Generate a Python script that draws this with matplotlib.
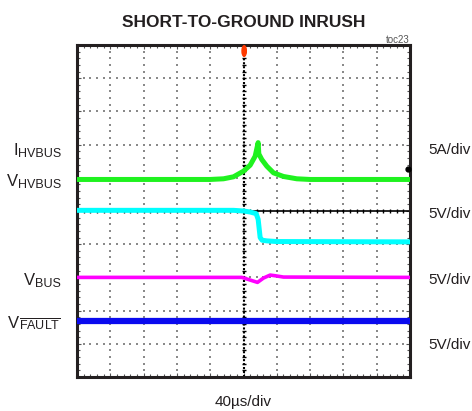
import numpy as np
import matplotlib
matplotlib.use("Agg")
import matplotlib.pyplot as plt
from matplotlib import font_manager
from matplotlib.patches import Ellipse
from matplotlib.ticker import MultipleLocator

# scope traces, in divisions (x: 40us/div, centre = trigger)
green_t = [-5.0, -1.0, -0.6, -0.3, 0.0, 0.2, 0.35, 0.44, 0.46, 0.55, 0.7, 0.9, 1.2, 1.6, 2.0, 5.0]
green_v = [0.95, 0.95, 0.97, 1.03, 1.2, 1.38, 1.65, 2.06, 1.72, 1.55, 1.35, 1.15, 1.04, 0.97, 0.95, 0.95]

cyan_t = [-5.0, -0.3, 0.0, 0.2, 0.38, 0.44, 0.5, 0.56, 0.7, 1.0, 5.0]
cyan_v = [0.02, 0.02, 0.0, -0.03, -0.08, -0.25, -0.8, -0.88, -0.9, -0.92, -0.93]

mag_t = [-5.0, -0.05, 0.2, 0.42, 0.6, 0.8, 0.95, 1.2, 5.0]
mag_v = [-2.0, -2.0, -2.08, -2.15, -2.02, -1.93, -1.95, -1.99, -2.0]

blue_t = [-5.0, 5.0]
blue_v = [-3.3, -3.3]

left_main = ['I', 'V', 'V', 'V']
left_sub = ['HVBUS', 'HVBUS', 'BUS', r'$\mathregular{\overline{FAULT}}$']
left_y = [155, 186, 285, 328]
right_labels = ['5A/div', '5V/div', '5V/div', '5V/div']
right_y = [154, 218, 284, 349]

W, H = 472, 411
plt.rcParams['font.family'] = ['Liberation Sans', 'DejaVu Sans']
plt.rcParams['mathtext.fontset'] = 'custom'
plt.rcParams['mathtext.rm'] = 'Liberation Sans'
plt.rcParams['mathtext.it'] = 'Liberation Sans:italic'

names = {f.name for f in font_manager.fontManager.ttflist}
if 'Liberation Sans Narrow' in names:
    title_font = dict(family='Liberation Sans Narrow', size=15, weight='bold')
else:
    title_font = dict(family='Liberation Sans', size=12.5, weight='bold')

fig = plt.figure(figsize=(W / 100, H / 100), dpi=100)
ax = fig.add_axes([77 / W, 1 - 377 / H, 333 / W, 332 / H])
ax.set_xlim(-5, 5)
ax.set_ylim(-5, 5)

dark = '#231f20'
for s in ax.spines.values():
    s.set_linewidth(2.2)
    s.set_color(dark)
ax.xaxis.set_major_locator(MultipleLocator(1))
ax.yaxis.set_major_locator(MultipleLocator(1))
ax.xaxis.set_minor_locator(MultipleLocator(0.2))
ax.yaxis.set_minor_locator(MultipleLocator(0.2))
ax.tick_params(which='both', direction='in', top=True, right=True,
               labelbottom=False, labelleft=False, color='#555555', width=0.8)
ax.tick_params(which='major', length=3)
ax.tick_params(which='minor', length=2.5)

# dotted graticule
dots = np.arange(-5, 5.01, 0.2)
for g in range(-4, 5):
    if g == 0:
        continue
    ax.scatter(np.full_like(dots, g), dots, s=1.0, color='#8a8a8a', marker='s', lw=0, zorder=1)
    ax.scatter(dots, np.full_like(dots, g), s=1.0, color='#8a8a8a', marker='s', lw=0, zorder=1)

# centre axes
ax.plot([0, 0], [-5, 5], color='black', lw=1.5, ls=(0, (1, 0.9)), zorder=2)
ax.plot([-5, 5], [0, 0], color='black', lw=1.2, zorder=2)
ax.scatter(np.zeros_like(dots), dots, marker='_', s=12, color='black', lw=1, zorder=2)
ax.scatter(dots, np.zeros_like(dots), marker='|', s=12, color='black', lw=1, zorder=2)

# traces
ax.plot(blue_t, blue_v, color='#0a0aef', lw=4.5, zorder=3)
ax.plot(mag_t, mag_v, color='#ff00ff', lw=2.6, zorder=3)
ax.plot(cyan_t, cyan_v, color='#00ffff', lw=3.6, zorder=3)
ax.plot(green_t, green_v, color='#1ff21f', lw=3.6, zorder=3)

# markers
ax.add_patch(Ellipse((0.02, 4.82), 0.13, 0.32, color='#ff3a00', zorder=5, clip_on=False))
ax.plot([4.95], [1.28], 'o', color='black', ms=3.5, zorder=5, clip_on=False)

fig.text(244 / W, 1 - 27 / H, 'SHORT-TO-GROUND INRUSH', ha='center', va='baseline',
         color=dark, **title_font)
fig.text(410 / W, 1 - 43 / H, 'toc23', ha='right', va='baseline', fontsize=7, color='#555555')
fig.text(243 / W, 1 - 406 / H, '40\u00b5s/div', ha='center', va='baseline', fontsize=11, color=dark)

# left labels: main letter + larger-than-mathtext subscript
renderer = fig.canvas.get_renderer()
for m, sub, y in zip(left_main, left_sub, left_y):
    t = fig.text(61 / W, 1 - (y + 2) / H, sub, ha='right', va='baseline', fontsize=9, color=dark)
    w = t.get_window_extent(renderer).width
    fig.text((61 - w) / W, 1 - y / H, m, ha='right', va='baseline', fontsize=12, color=dark)
for lab, y in zip(right_labels, right_y):
    fig.text(428 / W, 1 - y / H, lab, ha='left', va='baseline', fontsize=11, color=dark)

fig.savefig('out.png', dpi=100)
